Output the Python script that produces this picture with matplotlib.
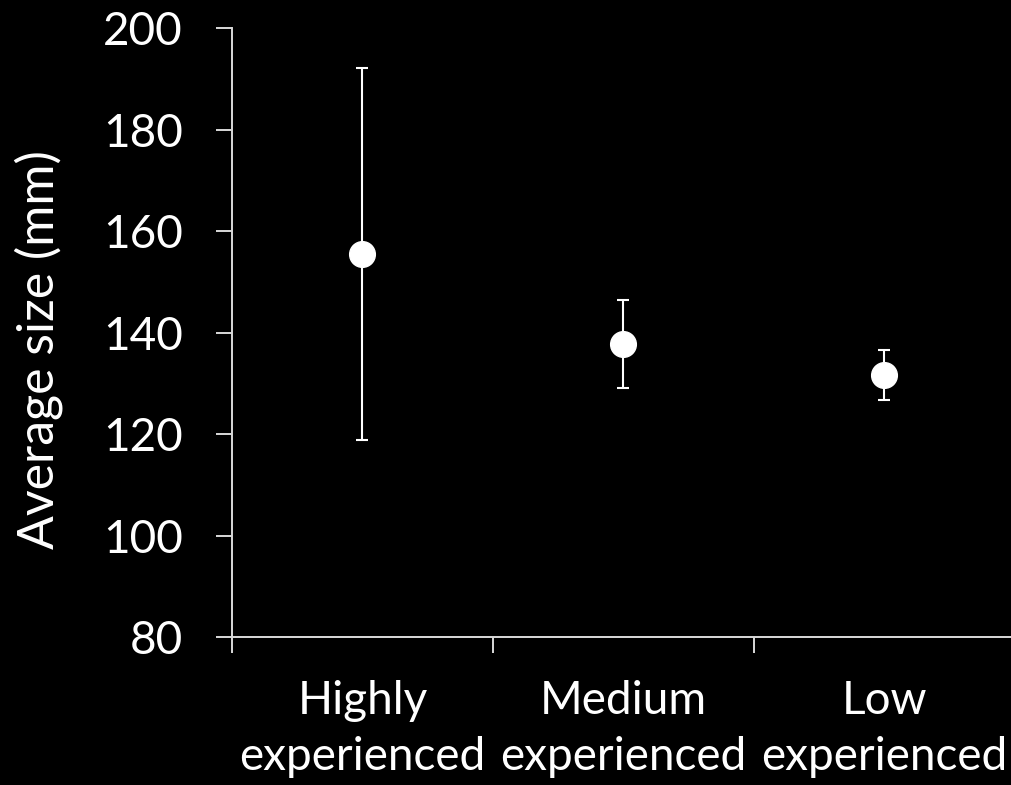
import matplotlib
matplotlib.use("Agg")
import matplotlib.pyplot as plt

# Average size by experience level, with error bars
categories = ["Highly\nexperienced", "Medium\nexperienced", "Low\nexperienced"]
mean_size = [155.5, 137.8, 131.7]
error = [36.6, 8.6, 4.9]
y_ticks = [80, 100, 120, 140, 160, 180, 200]

plt.rcParams['font.family'] = ['Lato', 'DejaVu Sans']

fig = plt.figure(figsize=(10.12, 7.85), dpi=100, facecolor='black')
ax = fig.add_axes([0.2292, 0.1882, 0.7708, 0.7757], facecolor='black')

x = list(range(len(categories)))
ax.errorbar(x, mean_size, yerr=error, fmt='o', color='white', ecolor='white',
            markersize=18.5, elinewidth=1.5, capsize=4.6, capthick=1.5, zorder=3)

ax.set_xlim(-0.5, 2.49)
ax.set_ylim(80, 200)
ax.set_yticks(y_ticks)
ax.set_yticklabels([str(v) for v in y_ticks])

# Boundary ticks between categories, labels centred under each point
ax.set_xticks([-0.5, 0.5, 1.5])
ax.set_xticklabels([])
ax.set_xticks(x, minor=True)
ax.set_xticklabels(categories, minor=True, fontsize=33, color='white',
                   linespacing=1.4)
ax.tick_params(axis='x', which='minor', length=0, pad=31)
ax.tick_params(axis='x', which='major', length=11.5, width=1.4, color='#d9d9d9',
               direction='out')
ax.tick_params(axis='y', length=11.5, width=1.4, color='#d9d9d9', direction='out',
               labelsize=33, labelcolor='white', pad=24)

for side in ['top', 'right']:
    ax.spines[side].set_visible(False)
for side in ['left', 'bottom']:
    ax.spines[side].set_color('#d9d9d9')
    ax.spines[side].set_linewidth(1.4)

ax.set_ylabel("Average size (mm)", fontsize=36, color='white')
ax.yaxis.set_label_coords(-0.217, 0.473)

fig.savefig("out.png", dpi=100, facecolor='black')
